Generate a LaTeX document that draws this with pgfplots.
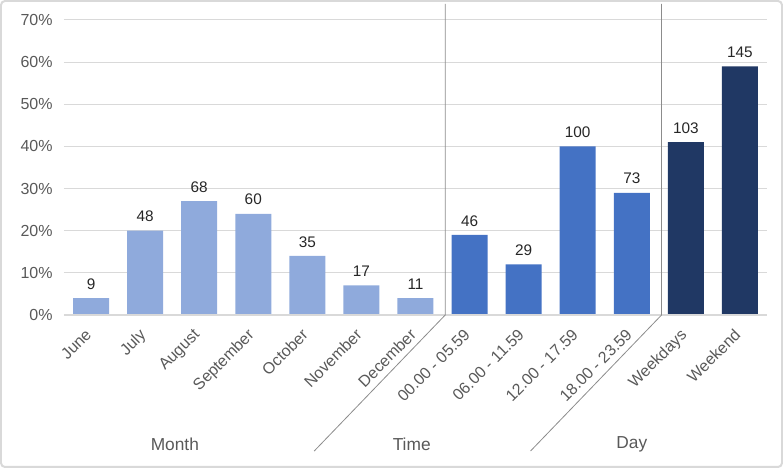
\documentclass[border=0pt]{standalone}
\usepackage{pgfplots}
\pgfplotsset{compat=1.18}
\usepackage{fontspec}
\setmainfont{Liberation Sans}

\definecolor{lblue}{HTML}{8FAADC}
\definecolor{mblue}{HTML}{4472C4}
\definecolor{dblue}{HTML}{203864}
\definecolor{gridgray}{HTML}{D9D9D9}
\definecolor{sepgray}{HTML}{8C8C8C}
\definecolor{txtgray}{HTML}{595959}

\begin{document}
\begin{tikzpicture}
\useasboundingbox (-48pt,-114.75pt) rectangle (539.25pt,236.25pt);
\draw[gridgray, line width=1.5pt, rounded corners=3pt]
  (-47.25pt,-114pt) rectangle (538.5pt,235.5pt);
\begin{axis}[
  at={(0,0)}, anchor=south west,
  scale only axis, width=527.25pt, height=221.25pt,
  xmin=-0.5, xmax=12.5, ymin=0, ymax=70,
  ybar, bar width=27pt,
  axis line style={draw=none},
  major tick length=0pt,
  ymajorgrids, grid style={gridgray, line width=0.75pt},
  ytick={0,10,...,70},
  yticklabel={\pgfmathprintnumber{\tick}\%},
  /pgf/number format/assume math mode=true,
  yticklabel style={font=\fontsize{12}{14}\selectfont, text=txtgray, xshift=-5pt},
  xtick={0,...,12},
  xticklabels={June,July,August,September,October,November,December,
    00.00 - 05.59,06.00 - 11.59,12.00 - 17.59,18.00 - 23.59,Weekdays,Weekend},
  xticklabel style={font=\fontsize{12}{14}\selectfont, text=txtgray,
    xshift=-5pt, yshift=-8pt, rotate=45, anchor=north east, inner sep=1pt},
  nodes near coords,
  point meta=explicit symbolic,
  nodes near coords style={font=\fontsize{11.5}{13}\selectfont, text=black!85, anchor=south, yshift=3pt},
  clip=false,
]
\addplot[fill=lblue, draw=none, bar shift=0pt] table[meta=n] {
x y n
0 4 9
1 20 48
2 27 68
3 24 60
4 14 35
5 7 17
6 4 11
};
\addplot[fill=mblue, draw=none, bar shift=0pt] table[meta=n] {
x y n
7 19 46
8 12 29
9 40 100
10 29 73
};
\addplot[fill=dblue, draw=none, bar shift=0pt] table[meta=n] {
x y n
11 41 103
12 59 145
};
\draw[gridgray, line width=1pt] (axis cs:-0.5,0) -- (axis cs:12.5,0);
\draw[sepgray, line width=0.6pt] ([yshift=12pt]axis cs:6.55,70) -- (axis cs:6.55,0) -- ([shift={(-98.25pt,-102pt)}]axis cs:6.55,0);
\draw[sepgray, line width=0.6pt] ([yshift=12pt]axis cs:10.55,70) -- (axis cs:10.55,0) -- ([shift={(-98.25pt,-102pt)}]axis cs:10.55,0);
\node[font=\fontsize{13}{15}\selectfont, text=txtgray] at ([yshift=-96.75pt]axis cs:1.55,0) {Month};
\node[font=\fontsize{13}{15}\selectfont, text=txtgray] at ([yshift=-96.75pt]axis cs:5.93,0) {Time};
\node[font=\fontsize{13}{15}\selectfont, text=txtgray] at ([yshift=-96.75pt]axis cs:10.0,0) {Day};
\end{axis}
\end{tikzpicture}
\end{document}
